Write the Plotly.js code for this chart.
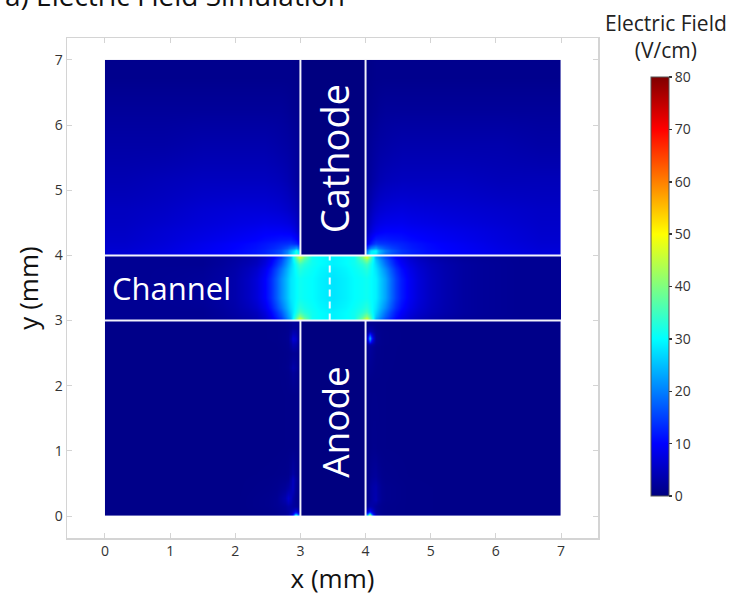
<!DOCTYPE html>
<html>
<head>
<meta charset="utf-8">
<script src="https://cdn.plot.ly/plotly-3.0.1.min.js"></script>
<style>
  html, body { margin: 0; padding: 0; background: #ffffff; }
  #chart { width: 729px; height: 596px; }
</style>
</head>
<body>
<div id="chart"></div>
<script>
// Electric field magnitude (V/cm). Each region is a grid: x / y hold cell edges in mm,
// the field rows run bottom to top.

// Channel (y 3..4, full width)
const channelX = [0, 1.2, 1.8, 2.2, 2.45, 2.62, 2.78, 2.92, 3.06, 3.3, 3.7, 3.94, 4.08, 4.22, 4.38, 4.55, 4.8, 5.2, 5.8, 7];
const channelY = [3, 3.06, 3.2, 3.5, 3.8, 3.94, 4];
const channelField = [
  [1.5, 1.5, 2.5, 4, 8, 14, 24, 47, 31, 29, 31, 47, 24, 16, 10, 6, 3.5, 2, 1.5],
  [1.5, 1.5, 3, 5, 10, 17, 26, 35, 31, 29, 31, 35, 27, 19, 12, 7.5, 4.5, 2.5, 1.5],
  [1.5, 2, 3.5, 7, 13, 21, 28, 31, 30, 28, 30, 31, 29, 23, 15, 9, 5, 2.5, 1.5],
  [1.5, 2, 3.5, 7, 13, 21, 28, 31, 30, 28, 30, 31, 29, 23, 15, 9, 5, 2.5, 1.5],
  [1.5, 1.5, 3, 5, 10, 17, 26, 35, 31, 29, 31, 35, 27, 19, 12, 7.5, 4.5, 2.5, 1.5],
  [1.5, 1.5, 2.5, 4, 8, 14, 24, 47, 31, 29, 31, 47, 24, 16, 10, 6, 3.5, 2, 1.5]
];

// Upper left of the cathode
const upperLeftX = [0, 0.6, 1.2, 1.8, 2.3, 2.6, 2.8, 2.9, 2.96, 3];
const upperY = [4, 4.04, 4.12, 4.25, 4.5, 4.9, 5.4, 6, 6.5, 7];
const upperLeftField = [
  [6.5, 7.5, 9, 10.5, 12.5, 16, 26, 34, 28],
  [6.5, 7.5, 9, 10.5, 12.5, 16, 24, 32, 25],
  [6, 7, 8.5, 10, 11.5, 13, 14, 13, 10],
  [5.5, 6.5, 7.5, 8.5, 9.5, 9.5, 9, 7, 5],
  [5, 5.5, 6.5, 7, 7, 6.5, 5.5, 4.5, 3],
  [4, 4.5, 5, 5, 5, 4.5, 3.5, 2.5, 2],
  [3, 3, 3.5, 3.5, 3.5, 3, 2.5, 2, 1.5],
  [2, 2, 2, 2, 2, 2, 1.5, 1.2, 1],
  [1, 1, 1, 1, 1, 1, 1, 0.8, 0.6]
];

// Upper right of the cathode
const upperRightX = [4, 4.04, 4.1, 4.2, 4.4, 4.7, 5.2, 5.8, 6.4, 7];
const upperRightField = [
  [24, 30, 28, 18, 13.5, 11, 9.5, 8, 7],
  [20, 28, 30, 20, 14, 11, 9.5, 8, 7],
  [9, 12, 15, 14, 12.5, 10.5, 9, 7.5, 6.5],
  [5, 7, 9, 10, 10, 9, 8, 7, 6],
  [3, 4.5, 6, 7, 7.5, 7, 6.5, 6, 5.5],
  [2, 2.5, 3.5, 4.5, 5, 5, 5, 4.5, 4.5],
  [1.5, 2, 2.5, 3, 3.5, 3.5, 3.5, 3.5, 3],
  [1, 1.2, 1.5, 2, 2, 2, 2, 2, 2],
  [0.6, 0.8, 1, 1, 1, 1, 1, 1, 1]
];

// Lower left of the anode
const lowerLeftX = [0, 1.5, 2.5, 2.76, 2.86, 2.9, 2.95, 3];
const lowerLeftY = [0, 0.04, 0.1, 0.2, 0.35, 0.5, 0.65, 1.5, 2.2, 2.35, 2.65, 2.8, 3];
const lowerLeftField = [
  [0.7, 0.7, 1.2, 3, 10, 32, 18],
  [0.7, 0.7, 1.2, 2.5, 5, 9, 5],
  [0.7, 0.7, 1.5, 3, 2.5, 2, 1.5],
  [0.7, 0.7, 1.5, 6, 3, 1.5, 1],
  [0.7, 0.7, 1.2, 3, 5, 2, 1],
  [0.7, 0.7, 1, 1.5, 5, 2.5, 1],
  [0.7, 0.7, 0.7, 0.8, 0.8, 0.8, 0.7],
  [0.7, 0.7, 0.7, 0.8, 0.8, 0.8, 0.7],
  [0.7, 0.7, 0.7, 1.2, 3.5, 2.5, 1],
  [0.7, 0.7, 0.7, 1, 1.5, 1.5, 1],
  [0.7, 0.7, 0.8, 1.5, 7, 6, 2],
  [0.7, 0.7, 0.8, 1.2, 2, 2, 1.5]
];

// Lower right of the anode
const lowerRightX = [4, 4.04, 4.08, 4.12, 4.18, 4.3, 5, 7];
const lowerRightY = [0, 0.04, 0.1, 0.2, 0.3, 0.6, 1.5, 2.6, 2.68, 2.78, 2.9, 3];
const lowerRightField = [
  [22, 48, 18, 4, 1.5, 0.8, 0.7],
  [7, 13, 7, 2.5, 1.2, 0.8, 0.7],
  [2, 3, 3, 2, 1.2, 0.8, 0.7],
  [1.2, 2, 3, 4, 1.5, 0.8, 0.7],
  [1.2, 2, 3, 3.5, 1.5, 0.8, 0.7],
  [0.8, 0.8, 1, 1, 0.8, 0.7, 0.7],
  [0.8, 0.8, 0.8, 0.8, 0.8, 0.7, 0.7],
  [2, 4, 3, 1.5, 1, 0.7, 0.7],
  [6, 26, 10, 2, 1, 0.7, 0.7],
  [2, 4, 3, 1.5, 1, 0.7, 0.7],
  [1.2, 1.2, 1.2, 1, 0.8, 0.7, 0.7]
];

// Electrodes carry no field
const electrodeX = [3, 4];
const cathodeY = [4, 7];
const anodeY = [0, 3];
const electrodeField = [[0]];

// Region outlines and the channel mid-line (mm)
const channelBounds = [3, 4];
const electrodeBounds = [3, 4];
const midLineX = 3.45;

const axisTicks = [0, 1, 2, 3, 4, 5, 6, 7];
const fieldTicks = [0, 10, 20, 30, 40, 50, 60, 70, 80];

const FONT = 'Open Sans, sans-serif';

function region(x, y, z) {
  return {
    type: 'heatmap', x: x, y: y, z: z,
    coloraxis: 'coloraxis', zsmooth: 'best', hoverinfo: 'skip'
  };
}

const traces = [
  region(upperLeftX, upperY, upperLeftField),
  region(upperRightX, upperY, upperRightField),
  region(lowerLeftX, lowerLeftY, lowerLeftField),
  region(lowerRightX, lowerRightY, lowerRightField),
  region(channelX, channelY, channelField),
  region(electrodeX, cathodeY, electrodeField),
  region(electrodeX, anodeY, electrodeField)
];

const white = 'rgba(250,250,255,0.95)';
const shapes = [];
channelBounds.forEach(function (yb) {
  shapes.push({type: 'line', xref: 'x', yref: 'y', x0: 0, x1: 7, y0: yb, y1: yb,
               line: {color: white, width: 2}});
});
electrodeBounds.forEach(function (xb) {
  shapes.push({type: 'line', xref: 'x', yref: 'y', x0: xb, x1: xb, y0: 0, y1: channelBounds[0],
               line: {color: white, width: 2}});
  shapes.push({type: 'line', xref: 'x', yref: 'y', x0: xb, x1: xb, y0: channelBounds[1], y1: 7,
               line: {color: white, width: 2}});
});
shapes.push({type: 'line', xref: 'x', yref: 'y', x0: midLineX, x1: midLineX,
             y0: channelBounds[0], y1: channelBounds[1],
             line: {color: white, width: 2, dash: '7px,5px'}});

const axisCommon = {
  showgrid: false, zeroline: false,
  showline: true, linecolor: '#d4d4d4', linewidth: 1.5, mirror: 'ticks',
  ticks: 'inside', ticklen: 5, tickcolor: '#d4d4d4', tickwidth: 1,
  tickvals: axisTicks, tickfont: {family: FONT, size: 14, color: '#333333'},
  fixedrange: true
};

const layout = {
  width: 729, height: 596,
  margin: {l: 67, r: 131, t: 38, b: 58},
  paper_bgcolor: '#ffffff', plot_bgcolor: '#ffffff',
  font: {family: FONT, color: '#333333'},
  showlegend: false,
  xaxis: Object.assign({}, axisCommon, {
    range: [-0.583, 7.568],
    title: {text: 'x (mm)', font: {family: FONT, size: 26, color: '#111111'}, standoff: 8}
  }),
  yaxis: Object.assign({}, axisCommon, {
    range: [-0.337, 7.337],
    title: {text: 'y (mm)', font: {family: FONT, size: 26, color: '#111111'}, standoff: 8}
  }),
  coloraxis: {
    cmin: 0, cmax: 80,
    colorscale: [
      [0, 'rgb(0,0,128)'],
      [0.125, 'rgb(0,0,255)'],
      [0.375, 'rgb(0,255,255)'],
      [0.625, 'rgb(255,255,0)'],
      [0.875, 'rgb(255,0,0)'],
      [1, 'rgb(128,0,0)']
    ],
    colorbar: {
      thickness: 18, thicknessmode: 'pixels',
      len: 419, lenmode: 'pixels',
      x: (651 - 67) / 531, xanchor: 'left',
      y: (538 - 286.5) / 500, yanchor: 'middle',
      xpad: 0, ypad: 0,
      outlinewidth: 1, outlinecolor: '#555555',
      ticks: 'outside', ticklen: 3, tickcolor: '#333333', tickwidth: 1.5,
      tickvals: fieldTicks,
      tickfont: {family: FONT, size: 14, color: '#333333'}
    }
  },
  shapes: shapes,
  annotations: [
    {xref: 'paper', yref: 'paper', x: -0.1205, y: 1.086, xanchor: 'left', yanchor: 'middle',
     text: 'a) Electric Field Simulation', showarrow: false,
     font: {family: FONT, size: 28, color: '#111111'}},
    {xref: 'paper', yref: 'paper', x: 1.128, y: 1.004, xanchor: 'center', yanchor: 'middle',
     text: 'Electric Field<br>(V/cm)', showarrow: false,
     font: {family: FONT, size: 21, color: '#222222'}},
    {xref: 'x', yref: 'y', x: 3.52, y: 5.48, text: 'Cathode', textangle: -90, showarrow: false,
     font: {family: FONT, size: 38, color: '#ffffff'}},
    {xref: 'x', yref: 'y', x: 3.52, y: 1.45, text: 'Anode', textangle: -90, showarrow: false,
     font: {family: FONT, size: 37, color: '#ffffff'}},
    {xref: 'x', yref: 'y', x: 0.08, y: 3.5, xanchor: 'left', text: 'Channel', showarrow: false,
     font: {family: FONT, size: 31, color: '#ffffff'}}
  ]
};

Plotly.newPlot('chart', traces, layout, {displayModeBar: false, staticPlot: true});
</script>
</body>
</html>
